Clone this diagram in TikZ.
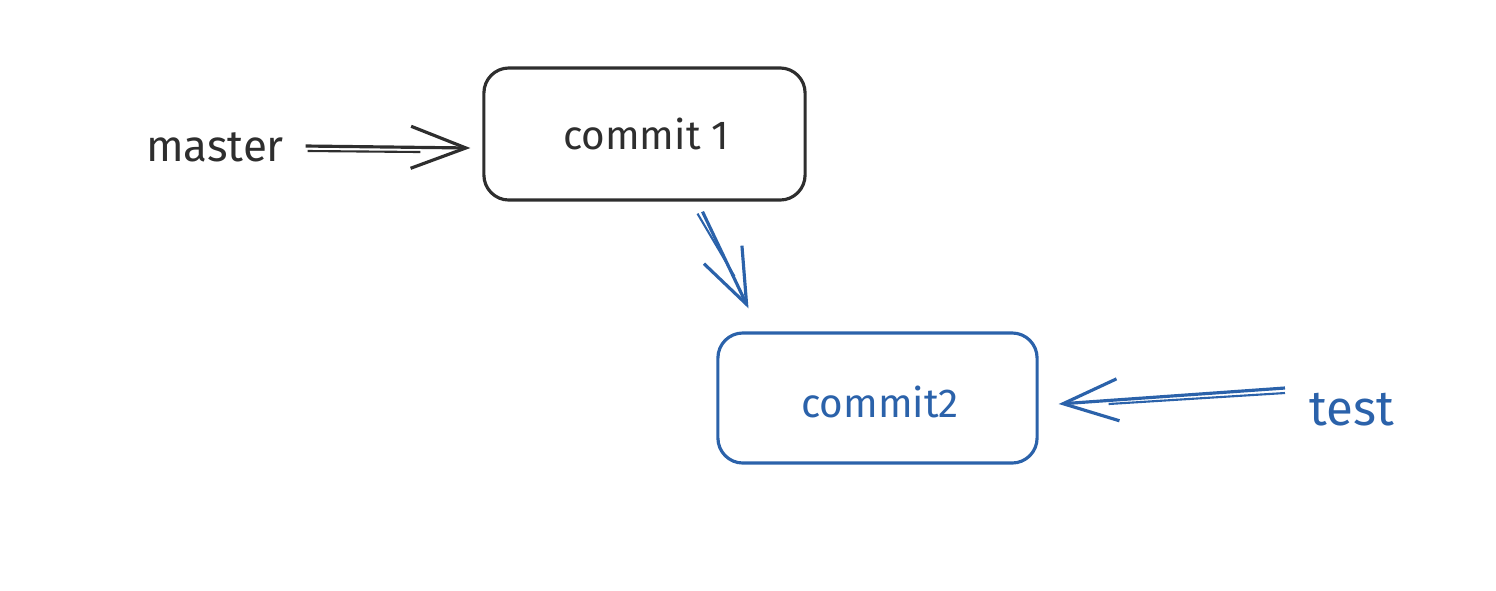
\documentclass[tikz,border=0pt]{standalone}
\usepackage{fontspec}
\setmainfont{Fira Sans}
\usetikzlibrary{arrows.meta,calc}
\definecolor{ink}{HTML}{2E2E2E}
\definecolor{blu}{HTML}{2B62AA}
\tikzset{
  box/.style={draw, line width=0.9pt, rounded corners=0.25cm, minimum width=3.2cm, minimum height=1.31cm, inner sep=0pt},
  lbl/.style={font=\fontsize{14}{16}\selectfont, inner sep=0pt},
  clbl/.style={font=\fontsize{11.5}{14}\selectfont, inner sep=0pt},
  arr/.style={line width=0.9pt, -{Straight Barb[length=5.5mm,width=4.2mm,line width=0.9pt]}},
  ghost/.style={line width=0.6pt}
}
\begin{document}
\begin{tikzpicture}[x=0.01cm,y=-0.01cm]
\useasboundingbox (0,0) rectangle (1496,590);
% nodes
\node[box, ink, minimum width=3.21cm, minimum height=1.32cm] (c1) at (644.5,134) {};
\node[clbl, ink] (t1) at (646,134) {commit 1};
\node[box, blu, minimum width=3.19cm, minimum height=1.30cm] (c2) at (877.5,398) {};
\node[clbl, blu] (t2) at (880,402) {commit2};
\node[lbl, ink, font=\fontsize{12.5}{15}\selectfont] (master) at (215,147) {master};
\node[lbl, blu] (test) at (1352,410) {test};
% arrow master -> commit 1
\coordinate (ms) at ($(master.east)+(21,-1)$);
\coordinate (me) at ($(c1.west)+(-12,14)$);
\draw[arr, ink] (ms) -- (me);
\draw[ghost, ink] ($(ms)+(2,5)$) -- ($(me)+(-50,4)$);
% arrow commit 1 -> commit 2
\coordinate (ds) at ($(c1.south)+(58,10)$);
\coordinate (de) at ($(c2.north)+(-129,-23)$);
\draw[arr, blu] (ds) -- (de);
\draw[ghost, blu] ($(ds)+(-5,2)$) -- ($(de)+(-14,-32)$);
% arrow test -> commit 2
\coordinate (ts) at ($(test.west)+(-24,-22)$);
\coordinate (te) at ($(c2.east)+(20,6)$);
\draw[arr, blu] (ts) -- (te);
\draw[ghost, blu] ($(ts)+(0,5)$) -- ($(te)+(50,0)$);
\end{tikzpicture}
\end{document}
